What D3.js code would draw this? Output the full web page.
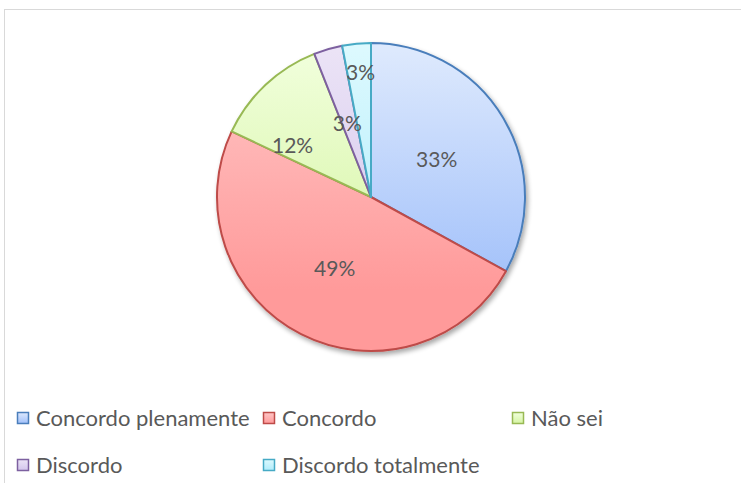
<!DOCTYPE html>
<html>
<head>
<meta charset="utf-8">
<script src="https://cdn.jsdelivr.net/npm/d3@7"></script>
<style>
  html, body { margin: 0; padding: 0; background: #fff; }
  svg { display: block; font-family: Lato, "Open Sans", sans-serif; }
</style>
</head>
<body>
<svg id="chart" width="741" height="483"></svg>
<script>
// Survey answers and their shares (percent)
const categories = ["Concordo plenamente", "Concordo", "Não sei", "Discordo", "Discordo totalmente"];
const values = [33, 49, 12, 3, 3];
const labels = ["33%", "49%", "12%", "3%", "3%"];

// Fill gradients (top, bottom) and outline colour for each slice
const gradTop = ["#dde9fd", "#ffc6c6", "#f1ffdc", "#ebe3f6", "#dcf9fe"];
const gradBottom = ["#a1c0fa", "#ff9a9a", "#d5f4a3", "#d3c5ec", "#b0ecfb"];
const strokes = ["#4a7ebb", "#be4b48", "#98b954", "#7d60a0", "#46aac5"];

const svg = d3.select("#chart");
const W = 741, H = 483;

// Chart frame
svg.append("rect")
  .attr("x", 4.5).attr("y", 9.5)
  .attr("width", W + 10).attr("height", H + 10)
  .attr("fill", "#fff").attr("stroke", "#d9d9d9").attr("stroke-width", 1);

const cx = 371, cy = 197, r = 154;

const defs = svg.append("defs");
categories.forEach((c, i) => {
  // slice gradients are in the pie group's local space (origin at the centre)
  const g = defs.append("linearGradient")
    .attr("id", "g" + i)
    .attr("gradientUnits", "userSpaceOnUse")
    .attr("x1", 0).attr("y1", -r * 0.95).attr("x2", 0).attr("y2", r * 0.6);
  g.append("stop").attr("offset", "0%").attr("stop-color", gradTop[i]);
  g.append("stop").attr("offset", "100%").attr("stop-color", gradBottom[i]);
  const lg = defs.append("linearGradient")
    .attr("id", "lg" + i)
    .attr("x1", 0).attr("y1", 0).attr("x2", 0).attr("y2", 1);
  lg.append("stop").attr("offset", "0%").attr("stop-color", gradTop[i]);
  lg.append("stop").attr("offset", "100%").attr("stop-color", gradBottom[i]);
});

const shadow = defs.append("filter").attr("id", "shadow")
  .attr("x", "-10%").attr("y", "-10%").attr("width", "130%").attr("height", "130%");
shadow.append("feGaussianBlur").attr("in", "SourceAlpha").attr("stdDeviation", 2.5).attr("result", "b");
shadow.append("feOffset").attr("in", "b").attr("dx", 2).attr("dy", 3).attr("result", "o");
shadow.append("feComponentTransfer").attr("in", "o").attr("result", "s")
  .append("feFuncA").attr("type", "linear").attr("slope", 0.35);
const merge = shadow.append("feMerge");
merge.append("feMergeNode").attr("in", "s");
merge.append("feMergeNode").attr("in", "SourceGraphic");

const pie = d3.pie().sort(null).value(d => d);
const arcs = pie(values);
const arc = d3.arc().innerRadius(0).outerRadius(r);

const pieG = svg.append("g").attr("transform", `translate(${cx},${cy})`);
pieG.append("g").attr("filter", "url(#shadow)")
  .selectAll("path").data(arcs).join("path")
  .attr("d", arc)
  .attr("fill", (d, i) => `url(#g${i})`)
  .attr("stroke", (d, i) => strokes[i])
  .attr("stroke-width", 2)
  .attr("stroke-linejoin", "round");

// Percentage labels: placed along each slice's bisector, with small nudges
const labelR = [0.49, 0.52, 0.61, 0.5, 0.81];
const labelNudge = [0.02, 0, -0.234, -0.03, 0.01];
pieG.selectAll("text.lbl").data(arcs).join("text")
  .attr("class", "lbl")
  .attr("transform", (d, i) => {
    const a = (d.startAngle + d.endAngle) / 2 + labelNudge[i];
    const rr = r * labelR[i];
    return `translate(${Math.sin(a) * rr},${-Math.cos(a) * rr})`;
  })
  .attr("text-anchor", "middle")
  .attr("dy", "0.35em")
  .attr("font-size", 21)
  .attr("fill", "#595959")
  .text((d, i) => labels[i]);

// Legend
const legendPos = [[17, 418], [263, 418], [512, 418], [17, 465], [263, 465]];
const leg = svg.append("g");
categories.forEach((c, i) => {
  const [x, y] = legendPos[i];
  leg.append("rect")
    .attr("x", x + 0.5).attr("y", y - 5.5).attr("width", 11).attr("height", 11)
    .attr("fill", `url(#lg${i})`).attr("stroke", strokes[i]).attr("stroke-width", 1.5);
  leg.append("text")
    .attr("x", x + 19).attr("y", y)
    .attr("dy", "0.35em")
    .attr("font-size", 22)
    .attr("fill", "#595959")
    .text(c);
});
</script>
</body>
</html>
